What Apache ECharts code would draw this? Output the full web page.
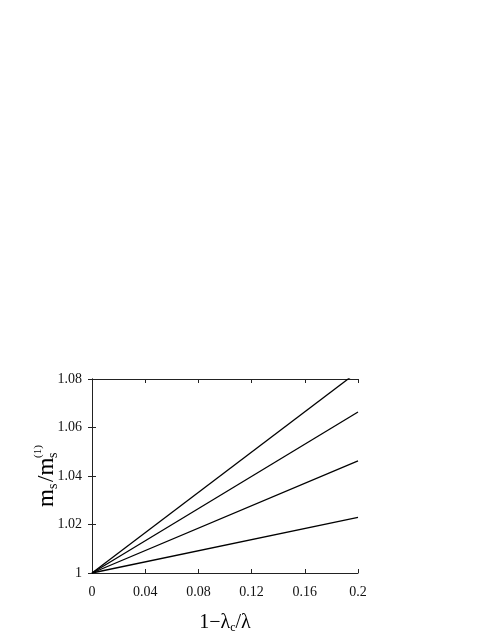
<!DOCTYPE html>
<html>
<head>
<meta charset="utf-8">
<script src="https://cdn.jsdelivr.net/npm/echarts@6/dist/echarts.min.js"></script>
<style>
  html, body { margin: 0; padding: 0; background: #fff; }
  #chart { width: 491px; height: 635px; }
</style>
</head>
<body>
<div id="chart"></div>
<script>
// x = 1 - lambda_c/lambda, each curve is m_s/m_s^(1)
const xValues = [0, 0.2];
const curve1 = [1, 1.0831];
const curve2 = [1, 1.0664];
const curve3 = [1, 1.0462];
const curve4 = [1, 1.0229];
const xTicks = [0, 0.04, 0.08, 0.12, 0.16, 0.2];
const yTicks = [1, 1.02, 1.04, 1.06, 1.08];

const FONT = "Liberation Serif";

function pairs(ys) {
  return xValues.map((x, i) => [x, ys[i]]);
}

const chart = echarts.init(document.getElementById("chart"));

const axisCommon = {
  axisLine: { show: true, lineStyle: { color: "#222", width: 1 } },
  axisTick: { show: true, inside: true, length: 4, lineStyle: { color: "#222" } },
  splitLine: { show: false }
};

function lineSeries(ys) {
  return {
    type: "line",
    data: pairs(ys),
    symbol: "none",
    lineStyle: { color: "#000", width: 1.3 },
    clip: true,
    silent: true
  };
}

function tickText(list) {
  return v => {
    const t = list.find(k => Math.abs(k - v) < 1e-9);
    return t === undefined ? "" : String(t);
  };
}

chart.setOption({
  animation: false,
  grid: { left: 92, top: 379, width: 266, height: 198 },
  xAxis: [
    Object.assign({}, axisCommon, {
      type: "value",
      min: 0, max: 0.2, interval: 0.04,
      axisLabel: { color: "#111", fontFamily: FONT, fontSize: 14, margin: 12, formatter: tickText(xTicks) },
      name: "{a|1−λ}{sub|c}{a|/λ}",
      nameLocation: "middle",
      nameGap: 39,
      nameTextStyle: {
        rich: {
          a: { fontFamily: FONT, fontSize: 20, color: "#000", lineHeight: 22, verticalAlign: "middle" },
          sub: { fontFamily: FONT, fontSize: 12, color: "#000", lineHeight: 12, verticalAlign: "bottom" }
        }
      }
    }),
    Object.assign({}, axisCommon, {
      type: "value", position: "top",
      min: 0, max: 0.2, interval: 0.04,
      axisLabel: { show: false }
    })
  ],
  yAxis: [
    Object.assign({}, axisCommon, {
      type: "value",
      min: 1, max: 1.08, interval: 0.02,
      axisLabel: { color: "#111", fontFamily: FONT, fontSize: 14, margin: 10, formatter: tickText(yTicks) }
    }),
    Object.assign({}, axisCommon, {
      type: "value", position: "right",
      min: 1, max: 1.08, interval: 0.02,
      axisLabel: { show: false }
    })
  ],
  graphic: [
    {
      type: "group",
      x: 47, y: 507,
      rotation: Math.PI / 2,
      children: [
        { type: "text", x: 0, y: 0, style: { text: "m", font: "23px " + FONT, fill: "#000", verticalAlign: "middle" } },
        { type: "text", x: 18, y: 6, style: { text: "s", font: "14px " + FONT, fill: "#000", verticalAlign: "middle" } },
        { type: "text", x: 25, y: 0, style: { text: "/m", font: "23px " + FONT, fill: "#000", verticalAlign: "middle" } },
        { type: "text", x: 49, y: 6, style: { text: "s", font: "14px " + FONT, fill: "#000", verticalAlign: "middle" } },
        { type: "text", x: 49, y: -9, style: { text: "(1)", font: "11px " + FONT, fill: "#000", verticalAlign: "middle" } }
      ]
    }
  ],
  series: [
    lineSeries(curve1),
    lineSeries(curve2),
    lineSeries(curve3),
    lineSeries(curve4)
  ]
});
</script>
</body>
</html>
